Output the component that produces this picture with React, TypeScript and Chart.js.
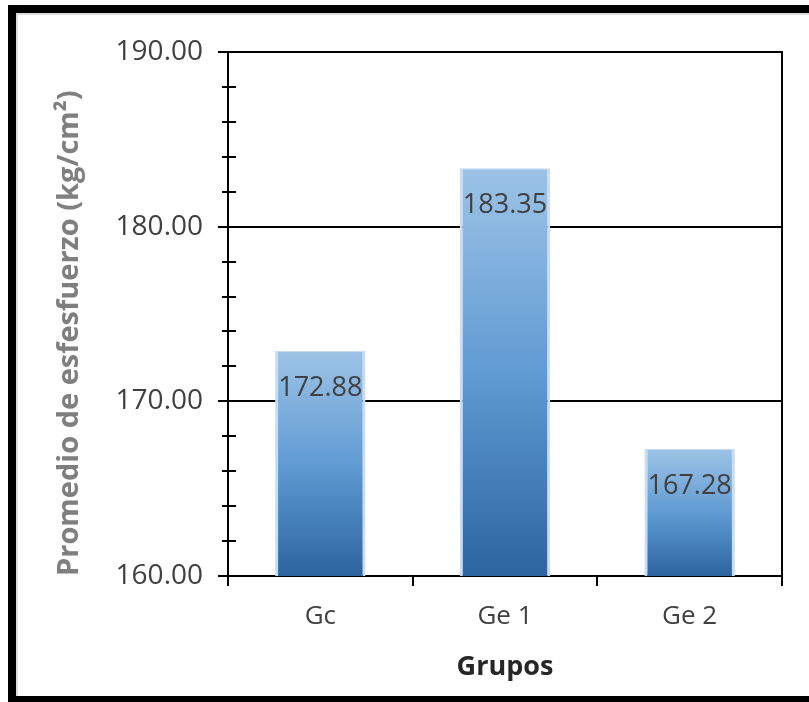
import React, { useEffect, useRef } from "react";
import { Chart, registerables } from "chart.js";

Chart.register(...registerables);

// Grupos de ensayo y promedio de esfuerzo (kg/cm²)
const groups = ["Gc", "Ge 1", "Ge 2"];
const meanStress = [172.88, 183.35, 167.28];

// Eje vertical
const yMin = 160;
const yMax = 190;
const yMajorStep = 10;
const yMinorStep = 2;

const yTitle = "Promedio de esfesfuerzo (kg/cm²)";
const xTitle = "Grupos";

const FONT = "'Open Sans', 'Noto Sans', sans-serif";
const TEXT = "#404040";

const isMajor = (v: number) => Math.abs(v % yMajorStep) < 1e-6;

// Marco negro alrededor de la figura
const framePlugin = {
  id: "frame",
  beforeDraw(chart: Chart) {
    const { ctx, width, height } = chart;
    ctx.save();
    ctx.fillStyle = "#ffffff";
    ctx.fillRect(0, 0, width, height);
    ctx.fillStyle = "#dcdcdc";
    ctx.fillRect(16, 13, width - 16, 2);
    ctx.fillRect(16, 13, 2, height - 19);
    ctx.fillStyle = "#000000";
    ctx.fillRect(8, 5, width - 8, 8);
    ctx.fillRect(8, 5, 8, height - 5);
    ctx.fillRect(8, height - 6, width - 8, 6);
    ctx.restore();
  },
};

// Marcas secundarias que cruzan el eje vertical
const minorTickPlugin = {
  id: "minorTicks",
  afterDraw(chart: Chart) {
    const { ctx, chartArea } = chart;
    const y = chart.scales.y;
    ctx.save();
    ctx.strokeStyle = "#000";
    ctx.lineWidth = 2;
    y.ticks.forEach((t) => {
      if (isMajor(t.value)) return;
      const py = Math.round(y.getPixelForValue(t.value));
      ctx.beginPath();
      ctx.moveTo(chartArea.left - 6, py);
      ctx.lineTo(chartArea.left + 8, py);
      ctx.stroke();
    });
    ctx.restore();
  },
};

// Etiquetas de valor dentro de cada barra
const valueLabelPlugin = {
  id: "valueLabels",
  afterDatasetsDraw(chart: Chart) {
    const { ctx } = chart;
    const meta = chart.getDatasetMeta(0);
    ctx.save();
    ctx.font = `27px ${FONT}`;
    ctx.fillStyle = TEXT;
    ctx.textAlign = "center";
    ctx.textBaseline = "middle";
    meta.data.forEach((el: any, i: number) => {
      const v = chart.data.datasets[0].data[i] as number;
      ctx.fillText(v.toFixed(2), el.x, el.y + 37);
    });
    ctx.restore();
  },
};

export default function App() {
  const canvasRef = useRef<HTMLCanvasElement | null>(null);

  useEffect(() => {
    if (!canvasRef.current) return;
    const chart = new Chart(canvasRef.current, {
      type: "bar",
      data: {
        labels: groups,
        datasets: [
          {
            data: meanStress,
            backgroundColor: (c: any) => {
              const ch = c.chart;
              const { ctx, chartArea, scales } = ch;
              if (!chartArea || c.raw === undefined) return "#5b9bd5";
              const top = scales.y.getPixelForValue(c.raw);
              const bottom = scales.y.getPixelForValue(yMin);
              const g = ctx.createLinearGradient(0, top, 0, bottom);
              g.addColorStop(0, "#9dc3e6");
              g.addColorStop(0.5, "#609bd3");
              g.addColorStop(1, "#2c64a0");
              return g;
            },
            borderColor: "#cadcf1",
            borderWidth: { left: 3, right: 3, top: 1, bottom: 0 },
            borderSkipped: "bottom",
            barPercentage: 0.49,
            categoryPercentage: 1,
          },
        ],
      },
      options: {
        animation: false,
        responsive: true,
        maintainAspectRatio: false,
        layout: { padding: { left: 0, top: 52, right: 27, bottom: 0 } },
        plugins: {
          legend: { display: false },
          tooltip: { enabled: false },
        },
        scales: {
          x: {
            grid: {
              display: true,
              drawOnChartArea: false,
              drawTicks: true,
              tickLength: 10,
              color: "#000",
              lineWidth: 2,
            },
            border: { display: true, color: "#000", width: 2 },
            ticks: {
              color: TEXT,
              font: { family: FONT, size: 26 },
              padding: 15,
            },
            title: {
              display: true,
              text: xTitle,
              color: "#262626",
              font: { family: FONT, size: 27, weight: "bold" },
              padding: { top: 0, bottom: 18 },
            },
            afterFit: (s: any) => {
              s.height = 126;
            },
          },
          y: {
            min: yMin,
            max: yMax,
            ticks: {
              stepSize: yMinorStep,
              autoSkip: false,
              color: TEXT,
              font: { family: FONT, size: 28 },
              padding: 15,
              callback: (v: any) => (isMajor(Number(v)) ? Number(v).toFixed(2) : ""),
            },
            grid: {
              color: (c: any) => (c.tick && isMajor(c.tick.value) ? "#000" : "rgba(0,0,0,0)"),
              tickColor: (c: any) => (c.tick && isMajor(c.tick.value) ? "#000" : "rgba(0,0,0,0)"),
              lineWidth: 2,
              tickLength: 10,
            },
            border: { display: true, color: "#000", width: 2 },
            title: {
              display: true,
              text: yTitle,
              align: "start",
              color: "#7f7f7f",
              font: { family: FONT, size: 29, weight: "bold" },
              padding: { top: 52, bottom: 0 },
            },
            afterFit: (s: any) => {
              s.width = 228;
            },
          },
          y2: {
            position: "right",
            min: yMin,
            max: yMax,
            ticks: { display: false },
            grid: { drawOnChartArea: false, drawTicks: false },
            border: { display: true, color: "#000", width: 2 },
            afterFit: (s: any) => {
              s.width = 0;
            },
          },
        },
      } as any,
      plugins: [framePlugin, minorTickPlugin, valueLabelPlugin],
    });
    return () => chart.destroy();
  }, []);

  return (
    <div style={{ position: "fixed", left: 0, top: 0, width: 809, height: 702, background: "#fff" }}>
      <canvas ref={canvasRef} />
    </div>
  );
}
